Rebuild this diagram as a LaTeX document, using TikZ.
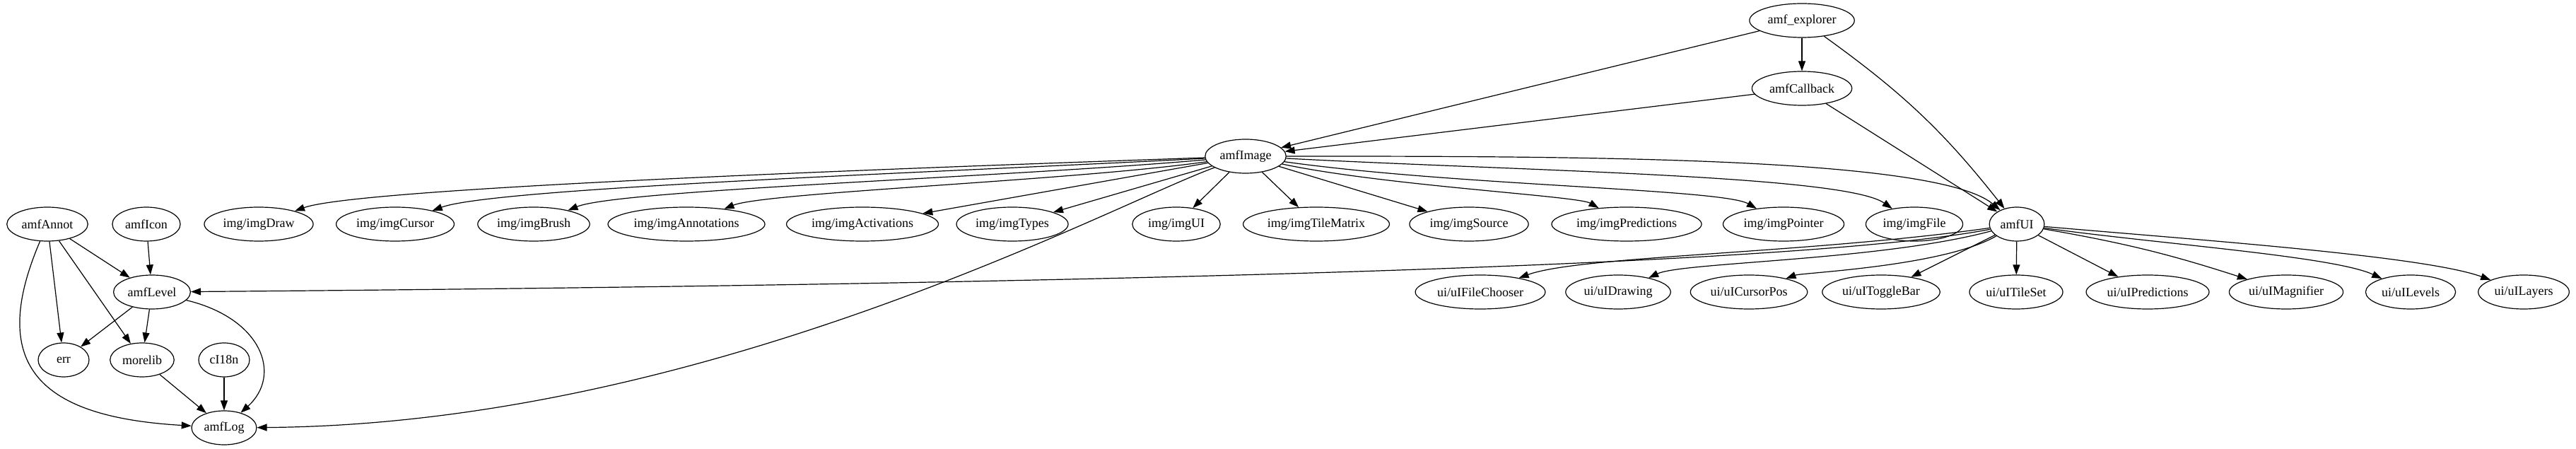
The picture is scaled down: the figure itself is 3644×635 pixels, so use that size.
\documentclass[tikz,border=0pt]{standalone}
\usepackage{fontspec}
\setmainfont{Liberation Serif}
\usetikzlibrary{arrows.meta,shapes.geometric}

\begin{document}
\begin{tikzpicture}[x=0.5pt,y=0.5pt,
    every node/.style={font=\fontsize{9}{11}\selectfont},
    mod/.style={draw,ellipse,line width=0.6pt,inner xsep=2pt,inner ysep=1pt,
                minimum width=36pt,minimum height=24pt},
    ar/.style={-{Triangle[length=7pt,width=5pt]},line width=0.6pt}]
  \useasboundingbox (0,0) rectangle (3644,-635);
  % top
  \node[mod] (expl) at (2549,-29) {amf\_explorer};
  \node[mod] (cb) at (2549,-125) {amfCallback};
  \node[mod] (img) at (1762,-221) {amfImage};
  % row of modules
  \node[mod] (annot) at (67,-317) {amfAnnot};
  \node[mod] (icon) at (207,-317) {amfIcon};
  \node[mod] (draw) at (366,-317) {img/imgDraw};
  \node[mod] (cursor) at (559,-317) {img/imgCursor};
  \node[mod] (brush) at (755,-317) {img/imgBrush};
  \node[mod] (annots) at (971,-317) {img/imgAnnotations};
  \node[mod] (activ) at (1220,-317) {img/imgActivations};
  \node[mod] (types) at (1432,-317) {img/imgTypes};
  \node[mod] (imgui) at (1664,-317) {img/imgUI};
  \node[mod] (tile) at (1862,-317) {img/imgTileMatrix};
  \node[mod] (source) at (2078,-317) {img/imgSource};
  \node[mod] (pred) at (2301,-317) {img/imgPredictions};
  \node[mod] (pointer) at (2523,-317) {img/imgPointer};
  \node[mod] (file) at (2708,-317) {img/imgFile};
  \node[mod] (ui) at (2853,-317) {amfUI};
  % ui row
  \node[mod] (level) at (215,-413) {amfLevel};
  \node[mod] (chooser) at (2094,-413) {ui/uIFileChooser};
  \node[mod] (drawing) at (2289,-413) {ui/uIDrawing};
  \node[mod] (cpos) at (2474,-413) {ui/uICursorPos};
  \node[mod] (toggle) at (2661,-413) {ui/uIToggleBar};
  \node[mod] (tset) at (2852,-413) {ui/uITileSet};
  \node[mod] (upred) at (3038,-413) {ui/uIPredictions};
  \node[mod] (magn) at (3234,-413) {ui/uIMagnifier};
  \node[mod] (levels) at (3410,-413) {ui/uILevels};
  \node[mod] (layers) at (3570,-413) {ui/uILayers};
  % bottom
  \node[mod] (err) at (90,-509) {err};
  \node[mod] (more) at (201,-509) {morelib};
  \node[mod] (i18n) at (317,-509) {cI18n};
  \node[mod] (log) at (317,-605) {amfLog};

  \draw[ar] (expl)--(cb); \draw[ar] (expl)--(img);
  \draw[ar] (expl) to[bend left=8] (ui);
  \draw[ar] (cb)--(img); \draw[ar] (cb)--(ui);
  \draw[ar] (img) .. controls +(182:500) and +(20:150) .. (draw);
  \draw[ar] (img) .. controls +(183:450) and +(20:150) .. (cursor);
  \draw[ar] (img) .. controls +(185:350) and +(22:130) .. (brush);
  \draw[ar] (img) .. controls +(188:250) and +(22:120) .. (annots);
  \draw[ar] (img)--(activ); \draw[ar] (img)--(types);
  \draw[ar] (img)--(imgui); \draw[ar] (img)--(tile);
  \draw[ar] (img)--(source);
  \draw[ar] (img) .. controls +(-12:200) and +(150:80) .. (pred);
  \draw[ar] (img) .. controls +(-8:300) and +(150:100) .. (pointer);
  \draw[ar] (img) .. controls +(-3:400) and +(145:120) .. (file);
  \draw[ar] (img) .. controls +(0:450) and +(140:150) .. (ui);
  \draw[ar] (img) .. controls +(200:200) and +(683,5) .. (log);
  \draw[ar] (ui) .. controls +(-353,-68) and +(985,8) .. (level);
  \draw[ar] (ui) .. controls +(188:300) and +(20:150) .. (chooser);
  \draw[ar] (ui) .. controls +(195:200) and +(25:100) .. (drawing);
  \draw[ar] (ui) .. controls +(210:120) and +(20:80) .. (cpos);
  \draw[ar] (ui)--(toggle); \draw[ar] (ui)--(tset);
  \draw[ar] (ui)--(upred);
  \draw[ar] (ui) to[bend left=4] (magn);
  \draw[ar] (ui) .. controls +(-8:200) and +(155:120) .. (levels);
  \draw[ar] (ui) .. controls +(-5:250) and +(160:150) .. (layers);
  \draw[ar] (annot)--(level); \draw[ar] (annot)--(err);
  \draw[ar] (annot)--(more);
  \draw[ar] (annot) .. controls +(-87,-203) and +(-257,15) .. (log);
  \draw[ar] (icon)--(level);
  \draw[ar] (level)--(err); \draw[ar] (level)--(more);
  \draw[ar] (level) .. controls +(155,-37) and +(83,75) .. (log);
  \draw[ar] (more)--(log); \draw[ar] (i18n)--(log);
\end{tikzpicture}
\end{document}
